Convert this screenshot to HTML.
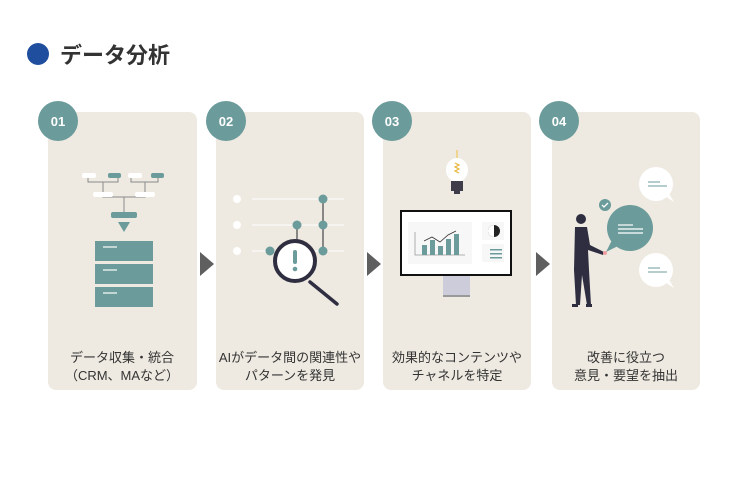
<!DOCTYPE html>
<html><head><meta charset="utf-8"><style>
html,body{margin:0;padding:0;background:#fff;}
svg{display:block;}
text{font-family:"Liberation Sans","Noto Sans CJK JP",sans-serif;}
</style></head><body>
<svg width="750" height="480" viewBox="0 0 750 480" xmlns="http://www.w3.org/2000/svg">
<rect width="750" height="480" fill="#fff"/>
<circle cx="38" cy="54" r="11" fill="#1f4e9e"/>
<text x="60" y="63" font-size="22" font-weight="bold" fill="#333">データ分析</text>

<g fill="#eeeae1">
<rect x="48" y="112" width="149" height="278" rx="8"/>
<rect x="216" y="112" width="148" height="278" rx="8"/>
<rect x="383" y="112" width="148" height="278" rx="8"/>
<rect x="552" y="112" width="148" height="278" rx="8"/>
</g>
<g fill="#5f5f5f">
<polygon points="200,252 214,264 200,276"/>
<polygon points="367,252 381,264 367,276"/>
<polygon points="536,252 550,264 536,276"/>
</g>
<g fill="#6b9b9a">
<circle cx="58" cy="121" r="20"/><circle cx="226" cy="121" r="20"/>
<circle cx="392" cy="121" r="20"/><circle cx="559" cy="121" r="20"/>
</g>
<g fill="#fff" font-size="13" font-weight="bold" text-anchor="middle">
<text x="58" y="126">01</text><text x="226" y="126">02</text>
<text x="392" y="126">03</text><text x="559" y="126">04</text>
</g>

<!-- icon 1 -->
<g stroke="#8a8a8a" stroke-width="1" fill="none">
<path d="M88,176 V182 H118 V176 M103,182 V195 M131,176 V182 H158 V176 M145,182 V195 M103,190 V197 H145 V190 M124,197 V212"/>
</g>
<g fill="#fff"><rect x="82" y="173" width="14" height="5" rx="2"/><rect x="128" y="173" width="14" height="5" rx="2"/><rect x="93" y="192" width="20" height="5" rx="2"/><rect x="135" y="192" width="20" height="5" rx="2"/></g>
<g fill="#6b9b9a"><rect x="108" y="173" width="13" height="5" rx="2"/><rect x="151" y="173" width="13" height="5" rx="2"/><rect x="111" y="212" width="26" height="6" rx="2"/>
<polygon points="118,222 130,222 124,232"/>
<rect x="95" y="241" width="58" height="20"/><rect x="95" y="264" width="58" height="20"/><rect x="95" y="287" width="58" height="20"/></g>
<g stroke="#dfe9e8" stroke-width="1.5"><line x1="103" y1="247" x2="117" y2="247"/><line x1="103" y1="270" x2="117" y2="270"/><line x1="103" y1="293" x2="117" y2="293"/></g>

<!-- icon 2 -->
<g stroke="#fff" stroke-width="1"><line x1="252" y1="199" x2="344" y2="199"/><line x1="252" y1="225" x2="344" y2="225"/><line x1="252" y1="251" x2="344" y2="251"/></g>
<g fill="#fff"><circle cx="237" cy="199" r="4"/><circle cx="237" cy="225" r="4"/><circle cx="237" cy="251" r="4"/></g>
<g stroke="#666" stroke-width="1.5"><line x1="323" y1="199" x2="323" y2="251"/><line x1="297" y1="225" x2="297" y2="240"/></g>
<g fill="#6b9b9a"><circle cx="323" cy="199" r="4.5"/><circle cx="323" cy="225" r="4.5"/><circle cx="323" cy="251" r="4.5"/><circle cx="297" cy="225" r="4.5"/><circle cx="270" cy="251" r="4.5"/></g>
<line x1="310" y1="282" x2="337" y2="304" stroke="#2f2e41" stroke-width="3.5" stroke-linecap="round"/>
<circle cx="295" cy="261" r="20" fill="#fff" stroke="#2f2e41" stroke-width="4"/>
<rect x="293" y="250" width="4" height="14" rx="2" fill="#6b9b9a"/><circle cx="295" cy="269" r="2.3" fill="#6b9b9a"/>

<!-- icon 3 -->
<line x1="457" y1="150" x2="457" y2="158" stroke="#f0c040" stroke-width="1"/>
<ellipse cx="457" cy="170" rx="11" ry="12" fill="#fff"/>
<path d="M455,163 l4,2 l-4,2 l4,2 l-4,2 l4,2" stroke="#e9b63a" fill="none" stroke-width="1.2"/>
<rect x="451" y="181" width="12" height="10" fill="#3f3d4a"/><rect x="454" y="191" width="6" height="3" fill="#3f3d4a"/>
<rect x="400" y="210" width="112" height="66" fill="#111"/>
<rect x="402" y="212" width="108" height="62" fill="#fff"/>
<rect x="408" y="222" width="64" height="42" fill="#f7f7f7"/>
<rect x="482" y="222" width="22" height="18" fill="#f7f7f7"/><rect x="482" y="244" width="22" height="18" fill="#f7f7f7"/>
<path d="M415,232 V255 H465" stroke="#999" fill="none" stroke-width="0.8"/>
<g fill="#6b9b9a"><rect x="422" y="245" width="5" height="10"/><rect x="430" y="240" width="5" height="15"/><rect x="438" y="246" width="5" height="9"/><rect x="446" y="239" width="5" height="16"/><rect x="454" y="234" width="5" height="21"/></g>
<polyline points="424,241 432,237 440,242 448,235 456,231" stroke="#333" fill="none" stroke-width="0.8"/>
<circle cx="494" cy="231" r="6" fill="#222"/><path d="M494,225 A6,6 0 0 0 494,237 Z" fill="#fff"/>
<g fill="#6b9b9a"><rect x="490" y="249" width="12" height="1.5"/><rect x="490" y="253" width="12" height="1.5"/><rect x="490" y="257" width="12" height="1.5"/></g>
<rect x="443" y="276" width="27" height="19" fill="#ccccdb"/><rect x="443" y="295" width="27" height="2" fill="#999"/>

<!-- icon 4 -->
<circle cx="656" cy="184" r="17" fill="#fff"/><polygon points="665,196 674,202 668,192" fill="#fff"/>
<g stroke="#6b9b9a" stroke-width="1"><line x1="648" y1="182" x2="660" y2="182"/><line x1="648" y1="186" x2="667" y2="186"/></g>
<circle cx="656" cy="270" r="17" fill="#fff"/><polygon points="665,282 674,288 668,278" fill="#fff"/>
<g stroke="#6b9b9a" stroke-width="1"><line x1="648" y1="268" x2="660" y2="268"/><line x1="648" y1="272" x2="667" y2="272"/></g>
<circle cx="630" cy="228" r="23" fill="#6b9b9a"/><polygon points="612,240 606,252 620,245" fill="#6b9b9a"/>
<g stroke="#fff" stroke-width="1.2"><line x1="618" y1="225" x2="633" y2="225"/><line x1="618" y1="229" x2="643" y2="229"/><line x1="618" y1="233" x2="643" y2="233"/></g>
<circle cx="605" cy="205" r="6" fill="#6b9b9a"/><path d="M602,205 l2,2 l4,-4" stroke="#fff" fill="none" stroke-width="1.3"/>
<circle cx="581" cy="219" r="5" fill="#2f2e41"/>
<path d="M575,227 L587,227 L590,245 L604,252 L603,255 L588,250 L589,270 L591,305 L587,305 L582,275 L580,305 L576,305 L574,270 Z" fill="#2f2e41"/>
<circle cx="605" cy="253" r="2" fill="#f0a0a0"/>
<rect x="572" y="304" width="6" height="3" fill="#2f2e41"/><rect x="586" y="304" width="6" height="3" fill="#2f2e41"/>

<g font-size="13" fill="#333" text-anchor="middle">
<text x="122" y="362">データ収集・統合</text><text x="122" y="380">（CRM、MAなど）</text>
<text x="290" y="362">AIがデータ間の関連性や</text><text x="290" y="380">パターンを発見</text>
<text x="457" y="362">効果的なコンテンツや</text><text x="457" y="380">チャネルを特定</text>
<text x="626" y="362">改善に役立つ</text><text x="626" y="380">意見・要望を抽出</text>
</g>
</svg>
</body></html>
